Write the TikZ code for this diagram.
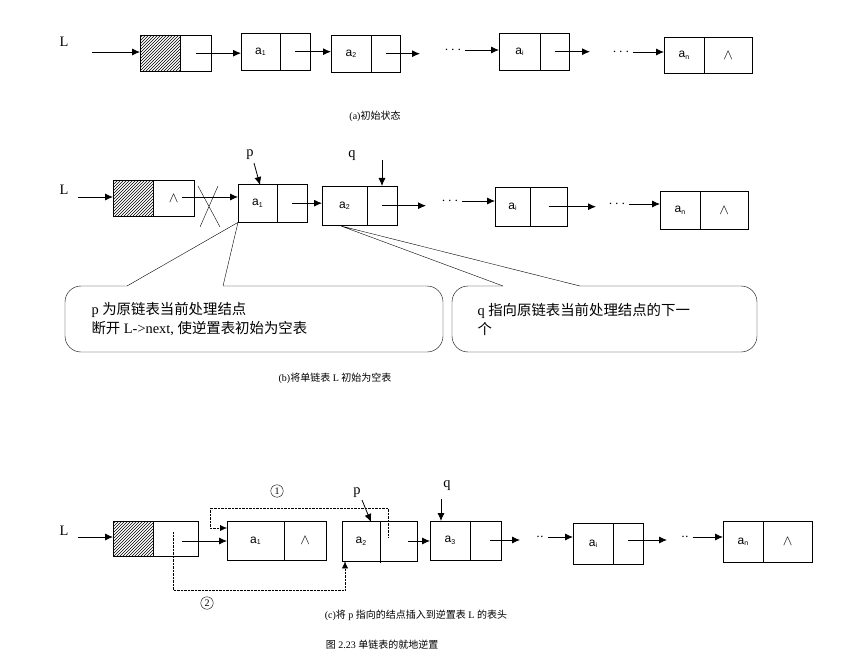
\documentclass[tikz,border=0pt]{standalone}
\usepackage{fontspec}
\setmainfont{Liberation Serif}
\setsansfont{Liberation Sans}
\newfontfamily\cjk{Noto Sans CJK SC}
\usetikzlibrary{arrows.meta, patterns}
\begin{document}
\begin{tikzpicture}[x=1pt,y=-1pt,
    cell/.style = {draw, inner sep=0pt, anchor=north west, font=\sffamily\large},
    pil/.style = {-{Latex[length=8pt,width=7pt]}, thick},
    dot/.style = {densely dotted, -{Latex[length=7pt,width=6pt]}},
    lbl/.style = {font=\Large},
    dts/.style = {font=\Large},
    circ/.style = {circle, draw, inner sep=1.5pt, font=\normalsize},
    captxt/.style = {font=\normalsize}
    ]
  \useasboundingbox (0,0) rectangle (859,655);
  % list cell: #1 name, #2 x, #3 y, #4 data width, #5 ptr width, #6 height, #7 data, #8 ptr
  \newcommand{\lnode}[8]{%
    \node[cell, minimum width=#4pt, minimum height=#6pt] (#1d) at (#2,#3) {#7};
    \node[cell, minimum width=#5pt, minimum height=#6pt] (#1p) at (#2+#4,#3) {#8};
    \coordinate (#1c) at (#1p.center);}
  \newcommand{\ai}[1]{a\textsubscript{\scriptsize #1}}
  \newcommand{\nil}{\Large$\wedge$}

  % ---------- (a)
  \node[lbl] (La) at (64,42) {L};
  \node[cell, minimum width=40pt, minimum height=36pt, pattern=north east lines] (ha) at (140,35) {};
  \node[cell, minimum width=31pt, minimum height=36pt] (hap) at (180,35) {};
  \lnode{a1}{241}{33}{39}{30}{37}{\ai{1}}{}
  \lnode{a2}{331}{35}{40}{29}{37}{\ai{2}}{}
  \lnode{ai}{499}{33}{41}{29}{37}{\ai{i}}{}
  \lnode{an}{664}{37}{40}{48}{36}{\ai{n}}{\nil}
  \node[dts] (d1a) at (453,50) {$\cdots$};
  \node[dts] (d2a) at (621,52) {$\cdots$};
  \coordinate (La0) at (92,52);
  \coordinate (a2e) at (420,52);
  \coordinate (aie) at (590,50);
  \draw[pil] (La0) -- (ha.west |- La0);
  \draw[pil] (hap.center) -- (a1d.west |- hap.center);
  \draw[pil] (a1c) -- (a2d.west |- a1c);
  \draw[pil] (a2c) -- (a2e |- a2c);
  \draw[pil] (d1a.east) -- (aid.west |- d1a.east);
  \draw[pil] (aic) -- (aie |- aic);
  \draw[pil] (d2a.east) -- (and.west |- d2a.east);
  \node[captxt] (capa) at (375,116) {(a){\cjk 初始状态}};

  % ---------- (b)
  \node[lbl] (Lb) at (64,190) {L};
  \node[cell, minimum width=40pt, minimum height=36pt, pattern=north east lines] (hb) at (113,180) {};
  \node[cell, minimum width=41pt, minimum height=36pt] (hbp) at (153,180) {\nil};
  \lnode{b1}{238}{184}{39}{30}{38}{\ai{1}}{}
  \lnode{b2}{322}{186}{45}{30}{39}{\ai{2}}{}
  \lnode{bi}{495}{187}{35}{37}{39}{\ai{i}}{}
  \lnode{bn}{660}{191}{40}{48}{38}{\ai{n}}{\nil}
  \node[dts] (d1b) at (450,201) {$\cdots$};
  \node[dts] (d2b) at (617,204) {$\cdots$};
  \coordinate (Lb0) at (78,197);
  \coordinate (hbs) at (182,197);
  \coordinate (b2e) at (426,202);
  \coordinate (bie) at (596,204);
  \draw[pil] (Lb0) -- (hb.west |- Lb0);
  \draw[pil] (hbs) -- (b1d.west |- hbs);
  \draw (198,186) -- (220,227) (218,186) -- (200,227);
  \draw[pil] (b1c) -- (b2d.west |- b1c);
  \draw[pil] (b2c) -- (b2e |- b2c);
  \draw[pil] (d1b.east) -- (bid.west |- d1b.east);
  \draw[pil] (bic) -- (bie |- bic);
  \draw[pil] (d2b.east) -- (bnd.west |- d2b.east);
  \node[lbl] (pb) at (250,155) {p};
  \node[lbl] (qb) at (352,156) {q};
  \coordinate (pb0) at (254,163);
  \coordinate (qb0) at (382,160);
  \draw[pil] (pb0) -- (260,185);
  \draw[pil] (qb0) -- (qb0 |- b2p.north);
  % callouts
  \coordinate (t1) at (b1d.south west);
  \coordinate (t2) at (341,226);
  \draw[rounded corners=16pt] (127,286) -- (65,286) -- (65,352) -- (443,352) -- (443,286) -- (223,286);
  \draw (127,286) -- (t1) -- (223,286);
  \node[anchor=west, align=left, font=\Large] (c1) at (88,319)
     {p {\cjk 为原链表当前处理结点}\\[1pt]{\cjk 断开} L->next, {\cjk 使逆置表初始为空表}};
  \draw[rounded corners=16pt] (503,286) -- (452,286) -- (452,352) -- (757,352) -- (757,286) -- (580,286);
  \draw (503,286) -- (t2) -- (580,286);
  \node[anchor=west, align=left, font=\Large] (c2) at (474,319)
     {q {\cjk 指向原链表当前处理结点的下一}\\[1pt]{\cjk 个}};
  \node[captxt] (capb) at (335,378) {(b){\cjk 将单链表} L {\cjk 初始为空表}};

  % ---------- (c)
  \node[lbl] (Lc) at (64,531) {L};
  \node[cell, minimum width=40pt, minimum height=35pt, pattern=north east lines] (hc) at (113,521) {};
  \node[cell, minimum width=45pt, minimum height=35pt] (hcp) at (153,521) {};
  \lnode{c1}{227}{521}{57}{42}{39}{\ai{1}}{\nil}
  \lnode{c2}{342}{521}{38}{37}{40}{\ai{2}}{}
  \lnode{c3}{430}{521}{40}{31}{39}{\ai{3}}{}
  \lnode{ci}{573}{523}{40}{30}{41}{\ai{i}}{}
  \lnode{cn}{723}{521}{40}{49}{41}{\ai{n}}{\nil}
  \node[dts] (d1c) at (540,537) {$\cdot\cdot$};
  \node[dts] (d2c) at (685,537) {$\cdot\cdot$};
  \coordinate (Lc0) at (78,537);
  \coordinate (hcs) at (182,541);
  \coordinate (c2s) at (408,541);
  \coordinate (c3s) at (490,540);
  \coordinate (c3e) at (520,540);
  \coordinate (cis) at (628,540);
  \coordinate (cie) at (667,540);
  \draw[pil] (Lc0) -- (hc.west |- Lc0);
  \draw[pil] (hcs) -- (c1d.west |- hcs);
  \draw[pil] (c2s) -- (c3d.west |- c2s);
  \draw[pil] (c3s) -- (c3e);
  \draw[pil] (d1c.east) -- (cid.west |- d1c.east);
  \draw[pil] (cis) -- (cie);
  \draw[pil] (d2c.east) -- (cnd.west |- d2c.east);
  \draw (380,541) -- (380,563);
  \node[lbl] (pc) at (357,493) {p};
  \node[lbl] (qc) at (447,486) {q};
  \coordinate (pc0) at (362,500);
  \coordinate (qc0) at (441,499);
  \draw[pil] (pc0) -- (371,522);
  \draw[pil] (qc0) -- (qc0 |- c3d.north);
  % dotted moves
  \coordinate (u0) at (388,537);
  \coordinate (v0) at (173,532);
  \draw[dot] (u0) -- (388,508) -- (210,508) -- (210,528) -- (c1d.west |- 0,528);
  \draw[dot] (v0) -- (173,590) -- (345,590) -- (c2d.south west -| 345,0);
  \node[circ] (k1) at (277,491) {1};
  \node[circ] (k2) at (207,603) {2};
  \node[captxt] (capc) at (416,615) {(c){\cjk 将} p {\cjk 指向的结点插入到逆置表} L {\cjk 的表头}};
  \node[captxt] (capf) at (382,645) {{\cjk 图} 2.23 {\cjk 单链表的就地逆置}};
\end{tikzpicture}
\end{document}
